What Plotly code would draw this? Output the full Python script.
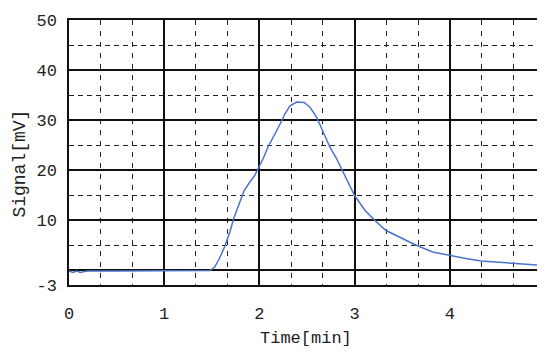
import plotly.graph_objects as go

time_min = [0.0, 0.04, 0.08, 0.12, 0.16, 0.2, 0.5, 1.0, 1.3, 1.48, 1.53, 1.58, 1.64, 1.69, 1.73, 1.79, 1.84, 1.90, 1.95,
            1.99, 2.04, 2.09, 2.14, 2.21, 2.27, 2.32, 2.39, 2.47, 2.53, 2.60, 2.67, 2.74, 2.81, 2.88,
            2.95, 3.00, 3.11, 3.23, 3.33, 3.47, 3.63, 3.82, 4.00, 4.17, 4.33, 4.49, 4.68, 5.0]
signal_mv = [-0.2, -0.5, -0.2, -0.5, -0.3, -0.2, -0.2, -0.2, -0.2, -0.1, 0.6, 2.3, 4.9, 7.6, 10.3, 13.6, 15.9, 17.6, 18.9,
             20.4, 22.3, 24.6, 26.3, 28.9, 31.3, 32.8, 33.6, 33.5, 32.6, 30.6, 27.6, 24.6, 22.3, 19.6,
             16.9, 14.9, 11.9, 9.6, 7.9, 6.6, 5.1, 3.6, 2.9, 2.3, 1.8, 1.6, 1.3, 0.9]

x_ticks = [0, 1, 2, 3, 4, 5]
x_minor = [k + f for k in range(5) for f in (1/3, 2/3)]
y_ticks = [-3, 0, 10, 20, 30, 40, 50]
y_ticktext = ["-3", "", "10", "20", "30", "40", "50"]
y_minor = [5, 15, 25, 35, 45]

FONT = "Liberation Mono"

fig = go.Figure()
fig.add_trace(go.Scatter(x=time_min, y=signal_mv, mode="lines",
                         line=dict(color="#4a74c9", width=1.5), showlegend=False))

# page body has an 8px default margin; size the figure so the plot area lands where the reference has it
fig.update_layout(
    width=537, height=345,
    margin=dict(l=61, r=0, t=12, b=68),
    paper_bgcolor="white", plot_bgcolor="white",
    font=dict(family=FONT, size=17, color="#222"),
    annotations=[
        dict(text="Time[min]", xref="paper", yref="paper", x=0.498, y=-0.2,
             xanchor="center", yanchor="middle", showarrow=False,
             font=dict(family=FONT, size=17, color="#222")),
        dict(text="Signal[mV]", xref="paper", yref="paper", x=-0.103, y=0.458,
             xanchor="center", yanchor="middle", showarrow=False, textangle=-90,
             font=dict(family=FONT, size=18, color="#222")),
    ],
)
fig.update_xaxes(
    range=[0, 5], tickvals=x_ticks, ticktext=[str(v) for v in x_ticks],
    showgrid=True, gridcolor="#111", gridwidth=1.5,
    minor=dict(tickvals=x_minor, showgrid=True, gridcolor="#222", gridwidth=1.3, griddash="5px,6px"),
    showline=True, linecolor="#111", linewidth=1.5, mirror=True,
    zeroline=False, ticks="", ticklabelstandoff=12, automargin=False,
    ticklabeloverflow="allow",
)
fig.update_yaxes(
    range=[-3, 50], tickvals=y_ticks, ticktext=y_ticktext,
    showgrid=True, gridcolor="#111", gridwidth=1.5,
    minor=dict(tickvals=y_minor, showgrid=True, gridcolor="#222", gridwidth=1.3, griddash="5px,4px"),
    showline=True, linecolor="#111", linewidth=1.5, mirror=True,
    zeroline=False, ticks="", ticklabelstandoff=7, automargin=False,
)

fig.write_html("out.html")
